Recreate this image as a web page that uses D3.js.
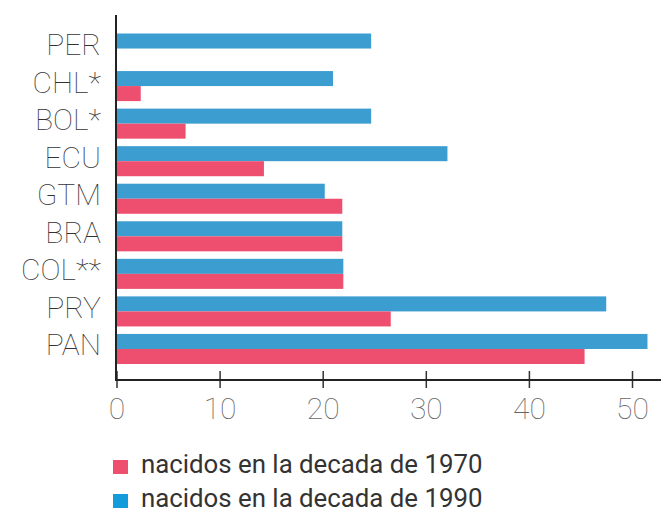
<!DOCTYPE html>
<html>
<head>
<meta charset="utf-8">
<script src="https://cdn.jsdelivr.net/npm/d3@7/dist/d3.min.js"></script>
<style>
  html, body { margin: 0; padding: 0; background: #fff; }
  svg { display: block; }
</style>
</head>
<body>
<svg id="chart" width="661" height="513"></svg>
<script>
// Country codes, top to bottom
const countries = ["PER", "CHL*", "BOL*", "ECU", "GTM", "BRA", "COL**", "PRY", "PAN"];
// Born in the 1990s (blue, upper bar of each pair)
const values1990 = [24.7, 21.0, 24.7, 32.1, 20.2, 21.9, 22.0, 47.5, 51.5];
// Born in the 1970s (red, lower bar of each pair); PER has no value
const values1970 = [null, 2.35, 6.7, 14.3, 21.9, 21.9, 22.0, 26.6, 45.4];
const xTicks = [0, 10, 20, 30, 40, 50];
const seriesNames = ["nacidos en la decada de 1970", "nacidos en la decada de 1990"];

const barColors = { s1970: "#ee4f6f", s1990: "#3b9dd0" };
const legendColors = ["#ee4f6f", "#139cdb"];

const svg = d3.select("#chart");
const plot = { left: 116, top: 15, bottom: 380, right: 661 };

const x = d3.scaleLinear().domain([0, 50]).range([116.5, 632]);
const y = d3.scaleBand().domain(countries).range([33.5, 364]).paddingInner(0.2);
const sub = d3.scaleBand().domain(["s1990", "s1970"]).range([0, y.bandwidth()]);

const rows = countries.map((c, i) => ({ c, s1990: values1990[i], s1970: values1970[i] }));

// Bars
const g = svg.append("g");
const groups = g.selectAll("g.row").data(rows).join("g")
  .attr("class", "row")
  .attr("transform", d => `translate(0,${y(d.c)})`);

groups.selectAll("rect")
  .data(d => ["s1990", "s1970"].filter(k => d[k] != null).map(k => ({ k, v: d[k] })))
  .join("rect")
  .attr("x", x(0))
  .attr("y", d => sub(d.k))
  .attr("width", d => x(d.v) - x(0))
  .attr("height", sub.bandwidth())
  .attr("fill", d => barColors[d.k]);

// Category labels
svg.append("g")
  .selectAll("text")
  .data(countries)
  .join("text")
  .attr("x", 101)
  .attr("y", d => y(d) + y.bandwidth() / 2 - 4)
  .attr("dy", "0.35em")
  .attr("text-anchor", "end")
  .attr("font-family", "Roboto, sans-serif")
  .attr("font-weight", 100)
  .attr("font-size", 30)
  .attr("fill", "#333")
  .text(d => d);

// X axis with ticks crossing the baseline
const xAxis = svg.append("g")
  .attr("transform", `translate(0,${plot.bottom})`)
  .call(d3.axisBottom(x).tickValues(xTicks).tickSize(8).tickPadding(6).tickFormat(d3.format("d")));
xAxis.select(".domain").remove();
xAxis.selectAll(".tick line").attr("y1", -9).attr("stroke", "#333").attr("stroke-width", 1.5);
xAxis.selectAll(".tick text")
  .attr("y", 0)
  .attr("dy", 0)
  .attr("transform", "translate(0,39)")
  .attr("font-family", "Roboto, sans-serif")
  .attr("font-weight", 100)
  .attr("font-size", 30)
  .attr("fill", "#666");

// Axis lines
svg.append("line")
  .attr("x1", plot.left).attr("x2", plot.left)
  .attr("y1", plot.top).attr("y2", plot.bottom + 1)
  .attr("stroke", "#222").attr("stroke-width", 2);
svg.append("line")
  .attr("x1", plot.left - 1).attr("x2", plot.right)
  .attr("y1", plot.bottom).attr("y2", plot.bottom)
  .attr("stroke", "#222").attr("stroke-width", 2);

// Legend
const legend = svg.append("g").attr("transform", "translate(113,460)");
const items = legend.selectAll("g").data(seriesNames).join("g")
  .attr("transform", (d, i) => `translate(0,${i * 34})`);
items.append("rect")
  .attr("width", 15).attr("height", 14)
  .attr("fill", (d, i) => legendColors[i]);
items.append("text")
  .attr("x", 28).attr("y", 13)
  .attr("font-family", "Roboto, sans-serif")
  .attr("font-size", 25.8)
  .attr("fill", "#333")
  .text(d => d);
</script>
</body>
</html>
